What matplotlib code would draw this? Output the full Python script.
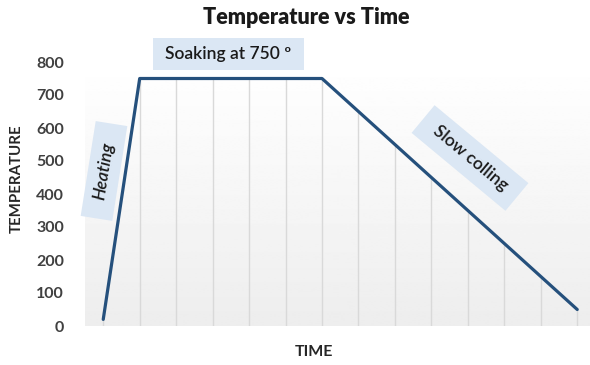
import numpy as np
import matplotlib.pyplot as plt
from matplotlib.patches import Rectangle
from matplotlib.transforms import IdentityTransform

plt.rcParams['font.family'] = ['Lato', 'DejaVu Sans']

# heat treatment cycle: heat up, soak at 750, cool slowly
steps = list(range(14))
temperature = [20, 750, 750, 750, 750, 750, 750, 650, 550, 450, 350, 250, 150, 50]
yticks = [0, 100, 200, 300, 400, 500, 600, 700, 800]

W, H = 590, 365
fig = plt.figure(figsize=(W / 100, H / 100), dpi=100)
ax = fig.add_axes([85 / W, 1 - 326 / H, (W - 85) / W, (326 - 62) / H])

# soft white-to-grey fill behind the plot
grad = np.linspace(1.0, 0.93, 256).reshape(-1, 1)
ax.imshow(grad, cmap='gray', vmin=0, vmax=1, aspect='auto',
          extent=[0, 1, 0, 1], transform=ax.transAxes, zorder=0)

# drop lines from each point down to the axis
ax.vlines(steps, 0, temperature, color='#d9d9d9', lw=1, zorder=1)

ax.plot(steps, temperature, color='#25507c', lw=2.3, zorder=3,
        solid_capstyle='round')

ax.set_xlim(-0.5, 13.35)
ax.set_ylim(0, 800)
ax.set_yticks(yticks)
ax.set_xticks([])
ax.tick_params(axis='y', length=0, pad=15, labelsize=11.5, labelcolor='#404040')
for lab in ax.get_yticklabels():
    lab.set_fontweight('bold')
for s in ax.spines.values():
    s.set_visible(False)

fig.text(306 / W, 1 - 18 / H, 'Temperature vs Time', ha='center', va='center',
         fontsize=15.5, fontweight='heavy', color='#1a1a1a')
fig.text(17 / W, 1 - 179 / H, 'TEMPERATURE', rotation=90, ha='center', va='center',
         fontsize=10.8, fontweight='bold', color='#262626')
fig.text(314 / W, 1 - 352 / H, 'TIME', ha='center', va='center',
         fontsize=11.5, fontweight='bold', color='#262626')


def label_box(cx, cy, w, h, angle, text, **kw):
    # shaded box (pixel units, y measured from top) with text centred on it
    px, py = cx, H - cy
    fig.patches.append(Rectangle((px - w / 2, py - h / 2), w, h, angle=angle,
                                 rotation_point='center', fc='#dbe7f4', ec='none',
                                 transform=IdentityTransform(), figure=fig))
    fig.text(cx / W, 1 - cy / H, text, rotation=angle, ha='center', va='center',
             rotation_mode='anchor', fontsize=12.5, color='#1a1a1a', **kw)


label_box(104, 171, 96, 32, 81, 'Heating', fontstyle='italic', fontweight='semibold')
label_box(228, 54, 151, 32, 0, 'Soaking at 750 º', fontweight='semibold')
label_box(470, 158, 122, 36, -39.7, 'Slow colling', fontweight='semibold')

fig.savefig('out.png', dpi=100)
